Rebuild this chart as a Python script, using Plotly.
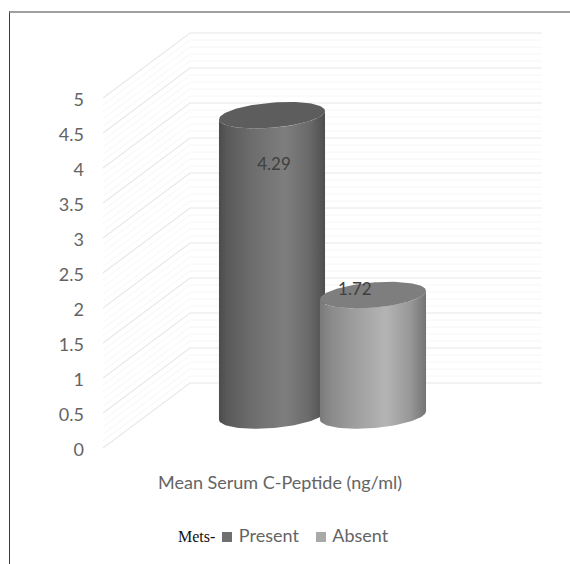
import numpy as np
import plotly.graph_objects as go

groups = ["Present", "Absent"]
means = [4.29, 1.72]
y_ticks = [0, 0.5, 1, 1.5, 2, 2.5, 3, 3.5, 4, 4.5, 5]
y_tick_labels = ["0", "0.5", "1", "1.5", "2", "2.5", "3", "3.5", "4", "4.5", "5"]
axis_title = "Mean Serum C-Peptide (ng/ml)"

# One x unit is the spacing of the two cylinders, one y unit is one value unit.
PX_X, PX_Y = 101.0, 70.0
W, H, LEFT = 570, 564, 85
ORIGIN_X, ORIGIN_Y = 272.0, 448.0
x_range = [(LEFT - ORIGIN_X) / PX_X, (W - ORIGIN_X) / PX_X]
y_range = [(ORIGIN_Y - H) / PX_Y, ORIGIN_Y / PX_Y]

# Depth of the chart floor expressed in value units, and wall extents in x units.
DEPTH = 65 / PX_Y
FRONT_X, BACK_X, RIGHT_X = -1.673, -0.812, 2.673
MID_DEPTH = DEPTH / 2

RADIUS_X = 0.525
RADIUS_Y = 0.18
TILT = 0.06

body_scales = [
    [[0, "#4c4c4c"], [0.08, "#5a5a5a"], [0.3, "#6c6c6c"], [0.62, "#7e7e7e"],
     [0.85, "#6a6a6a"], [1, "#4e4e4e"]],
    [[0, "#7a7a7a"], [0.1, "#8a8a8a"], [0.35, "#a0a0a0"], [0.62, "#b4b4b4"],
     [0.85, "#989898"], [1, "#747474"]],
]
cap_colors = ["#5d5d5d", "#7e7e7e"]
legend_colors = ["#6f6f6f", "#a9a9a9"]
label_shift_x = [0.02, -0.18]
label_shift_y = [-0.72, 0.06]

TEXT = "#646464"
FONT = "Lato, 'Open Sans', sans-serif"


def rim(center, level, t):
    return (center + RADIUS_X * np.cos(t),
            level + RADIUS_Y * np.sin(t) + TILT * np.cos(t))


def grid_segments(levels):
    xs, ys = [], []
    for v in levels:
        xs += [FRONT_X, BACK_X, RIGHT_X, None]
        ys += [v, v + DEPTH, v + DEPTH, None]
    return xs, ys


def col(px):
    return (px - ORIGIN_X) / PX_X


def row(px):
    return (ORIGIN_Y - px) / PX_Y


fig = go.Figure()

major = np.array(y_ticks, dtype=float)
minor = [v / 10 for v in range(0, 51) if v % 5]
for levels, color, width in ((minor, "#f6f6f6", 1), (major, "#e8e8e8", 1.2)):
    gx, gy = grid_segments(levels)
    fig.add_trace(go.Scatter(x=gx, y=gy, mode="lines", showlegend=False, hoverinfo="skip",
                             line=dict(color=color, width=width)))

# Each cylinder: the side surface with a horizontal gradient, then its top ellipse.
for i, (name, value) in enumerate(zip(groups, means)):
    base = MID_DEPTH
    top = base + value
    front = np.linspace(np.pi, 2 * np.pi, 60)
    top_x, top_y = rim(i, top, front)
    base_x, base_y = rim(i, base, front[::-1])
    fig.add_trace(go.Scatter(
        x=np.concatenate([top_x, base_x]), y=np.concatenate([top_y, base_y]),
        mode="lines", fill="toself", line=dict(width=0), showlegend=False, name=name,
        fillgradient=dict(type="horizontal", colorscale=body_scales[i]),
    ))
    around = np.linspace(0, 2 * np.pi, 120)
    cap_x, cap_y = rim(i, top, around)
    fig.add_trace(go.Scatter(x=cap_x, y=cap_y, mode="lines", fill="toself", hoverinfo="skip",
                             line=dict(width=0), fillcolor=cap_colors[i], showlegend=False))

fig.add_trace(go.Scatter(
    x=[i + s for i, s in enumerate(label_shift_x)],
    y=[MID_DEPTH + v + s for v, s in zip(means, label_shift_y)],
    mode="text", text=[f"{v:.2f}" for v in means], showlegend=False, hoverinfo="skip",
    textfont=dict(family=FONT, size=17, color="#404040"),
))

# Key row under the chart: a square swatch followed by the group name.
for name, color, swatch_px in zip(groups, legend_colors, (227, 321)):
    fig.add_trace(go.Scatter(
        x=[col(swatch_px)], y=[row(537)], mode="markers+text", name=name, showlegend=False,
        marker=dict(symbol="square", size=10, color=color, line=dict(width=0)),
        text=[" " + name], textposition="middle right", hoverinfo="skip",
        textfont=dict(family=FONT, size=18, color=TEXT),
    ))

fig.update_layout(
    width=W, height=H, margin=dict(l=LEFT, r=0, t=0, b=0),
    paper_bgcolor="white", plot_bgcolor="white", showlegend=False,
    xaxis=dict(range=x_range, visible=False, fixedrange=True),
    yaxis=dict(range=y_range, tickmode="array", tickvals=y_ticks, ticktext=y_tick_labels,
               showgrid=False, zeroline=False, showline=False, ticks="", fixedrange=True,
               ticklabelshift=2, tickfont=dict(family=FONT, size=18, color=TEXT)),
    annotations=[
        dict(text=axis_title, xref="x", yref="y", x=col(280), y=row(482), showarrow=False,
             xanchor="center", yanchor="middle",
             font=dict(family=FONT, size=18, color=TEXT)),
        dict(text="Mets-", xref="x", yref="y", x=col(196), y=row(536), showarrow=False,
             xanchor="center", yanchor="middle",
             font=dict(family="Liberation Serif", size=16, color="#111111")),
    ],
    shapes=[
        dict(type="line", xref="paper", yref="paper", x0=(9.5 - LEFT) / (W - LEFT),
             x1=(9.5 - LEFT) / (W - LEFT), y0=0, y1=1 - 11 / H,
             line=dict(color="#3c3c3c", width=1)),
        dict(type="line", xref="paper", yref="paper", x0=(9 - LEFT) / (W - LEFT), x1=1,
             y0=1 - 12 / H, y1=1 - 12 / H, line=dict(color="#808080", width=1.6)),
    ],
)

fig.write_html("out.html")
